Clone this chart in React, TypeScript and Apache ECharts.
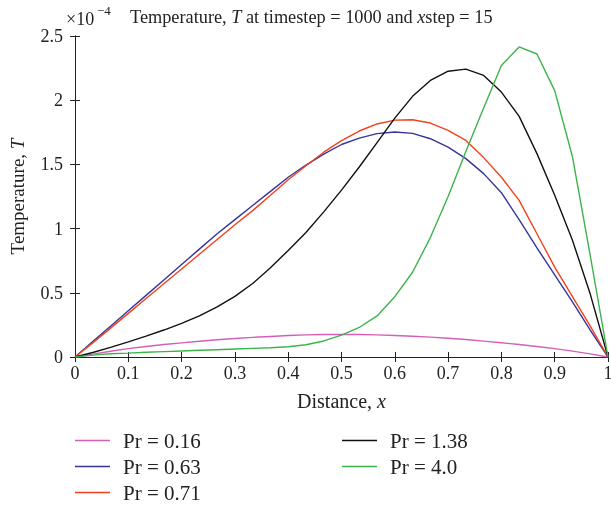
import React, { useEffect, useRef } from "react";
import * as echarts from "echarts";

const X = [0, 0.0333, 0.0667, 0.1, 0.1333, 0.1667, 0.2, 0.2333, 0.2667, 0.3, 0.3333, 0.3667, 0.4, 0.4333, 0.4667, 0.5, 0.5333, 0.5667, 0.6, 0.6333, 0.6667, 0.7, 0.7333, 0.7667, 0.8, 0.8333, 0.8667, 0.9, 0.9333, 0.9667, 1];

const PR016 = [0, 0.022, 0.045, 0.065, 0.082, 0.097, 0.11, 0.123, 0.134, 0.144, 0.153, 0.16, 0.167, 0.172, 0.175, 0.176, 0.175, 0.172, 0.168, 0.162, 0.155, 0.146, 0.136, 0.124, 0.111, 0.097, 0.082, 0.065, 0.046, 0.024, 0];
const PR063 = [0, 0.12, 0.24, 0.36, 0.48, 0.6, 0.72, 0.84, 0.96, 1.07, 1.18, 1.29, 1.4, 1.495, 1.58, 1.655, 1.705, 1.74, 1.752, 1.742, 1.70, 1.635, 1.545, 1.428, 1.28, 1.07, 0.85, 0.64, 0.43, 0.21, 0];
const PR071 = [0, 0.11, 0.225, 0.34, 0.455, 0.57, 0.685, 0.8, 0.915, 1.03, 1.14, 1.26, 1.38, 1.49, 1.595, 1.685, 1.76, 1.815, 1.845, 1.848, 1.822, 1.765, 1.687, 1.553, 1.40, 1.22, 0.96, 0.70, 0.47, 0.24, 0];
const PR138 = [0, 0.035, 0.075, 0.118, 0.162, 0.21, 0.262, 0.32, 0.39, 0.472, 0.572, 0.695, 0.83, 0.97, 1.13, 1.30, 1.48, 1.67, 1.86, 2.03, 2.154, 2.226, 2.242, 2.193, 2.063, 1.874, 1.584, 1.26, 0.91, 0.49, 0];
const PR40 = [0, 0.015, 0.025, 0.03, 0.037, 0.042, 0.047, 0.052, 0.057, 0.062, 0.067, 0.072, 0.08, 0.095, 0.125, 0.17, 0.23, 0.32, 0.47, 0.66, 0.93, 1.25, 1.6, 1.94, 2.27, 2.415, 2.36, 2.075, 1.56, 0.79, 0];

const NAMES = ["Pr = 0.16", "Pr = 0.63", "Pr = 0.71", "Pr = 1.38", "Pr = 4.0"];
const COLORS = ["#d35fb7", "#35359a", "#f2411b", "#111111", "#3cb44b"];
const SERIES = [PR016, PR063, PR071, PR138, PR40];

const FONT = "Liberation Serif";

export default function App() {
  const ref = useRef<HTMLDivElement>(null);
  useEffect(() => {
    const chart = echarts.init(ref.current!, null, { renderer: "svg" });
    const axisCommon = {
      type: "value" as const,
      axisLine: { show: true, lineStyle: { color: "#222", width: 1 } },
      axisTick: { show: true, inside: true, length: 5, lineStyle: { color: "#222" } },
      splitLine: { show: false },
    };
    const labelStyle = { fontFamily: FONT, fontSize: 18, color: "#222" };
    const legendCommon = {
      orient: "vertical" as const,
      top: 430,
      padding: 0,
      icon: "rect",
      itemWidth: 35,
      itemHeight: 1.5,
      itemGap: 5,
      textStyle: { fontFamily: FONT, fontSize: 21, color: "#222", padding: [0, 0, 0, 8] },
    };
    chart.setOption({
      animation: false,
      title: {
        text: "Temperature, {i|T} at timestep = 1000 and {i|x}step = 15",
        left: 130,
        top: 8,
        padding: 0,
        textStyle: {
          fontFamily: FONT,
          fontSize: 18.3,
          fontWeight: "normal",
          color: "#222",
          rich: { i: { fontFamily: FONT, fontSize: 18.3, fontStyle: "italic", color: "#222" } },
        },
      },
      graphic: [
        { type: "text", left: 66, top: 10, style: { text: "×10", fontFamily: FONT, fontSize: 18, fill: "#222" } },
        { type: "text", left: 97, top: 4, style: { text: "−4", fontFamily: FONT, fontSize: 13, fill: "#222" } },
      ],
      grid: { left: 75, top: 36, width: 533, height: 321, containLabel: false, outerBoundsMode: "none" },
      xAxis: [
        {
          ...axisCommon,
          position: "bottom",
          min: 0,
          max: 1,
          interval: 0.1,
          axisLabel: { ...labelStyle, margin: 7, formatter: (v: number) => String(Math.round(v * 10) / 10) },
          name: "Distance, {i|x}",
          nameLocation: "middle",
          nameGap: 34,
          nameTextStyle: {
            fontFamily: FONT,
            fontSize: 20,
            color: "#222",
            rich: { i: { fontFamily: FONT, fontSize: 20, fontStyle: "italic", color: "#222" } },
          },
        },
        {
          ...axisCommon,
          position: "top",
          min: 0,
          max: 1,
          interval: 0.1,
          axisLabel: { show: false },
        },
      ],
      yAxis: [
        {
          ...axisCommon,
          position: "left",
          min: 0,
          max: 2.5,
          interval: 0.5,
          axisLabel: { ...labelStyle, margin: 12 },
          name: "Temperature, {i|T}",
          nameLocation: "middle",
          nameGap: 48,
          nameTextStyle: {
            fontFamily: FONT,
            fontSize: 19,
            color: "#222",
            rich: { i: { fontFamily: FONT, fontSize: 19, fontStyle: "italic", color: "#222" } },
          },
        },
        {
          ...axisCommon,
          position: "right",
          min: 0,
          max: 2.5,
          interval: 0.5,
          axisLabel: { show: false },
        },
      ],
      legend: [
        { ...legendCommon, data: NAMES.slice(0, 3), left: 75 },
        { ...legendCommon, data: NAMES.slice(3), left: 342 },
      ],
      series: SERIES.map((vals, k) => ({
        name: NAMES[k],
        type: "line",
        xAxisIndex: 0,
        yAxisIndex: 0,
        showSymbol: false,
        symbol: "none",
        data: X.map((x, i) => [x, vals[i]]),
        lineStyle: { color: COLORS[k], width: 1.4 },
        itemStyle: { color: COLORS[k] },
      })),
    });
    return () => chart.dispose();
  }, []);
  return <div ref={ref} style={{ position: "fixed", left: 0, top: 0, width: 611, height: 505 }} />;
}
